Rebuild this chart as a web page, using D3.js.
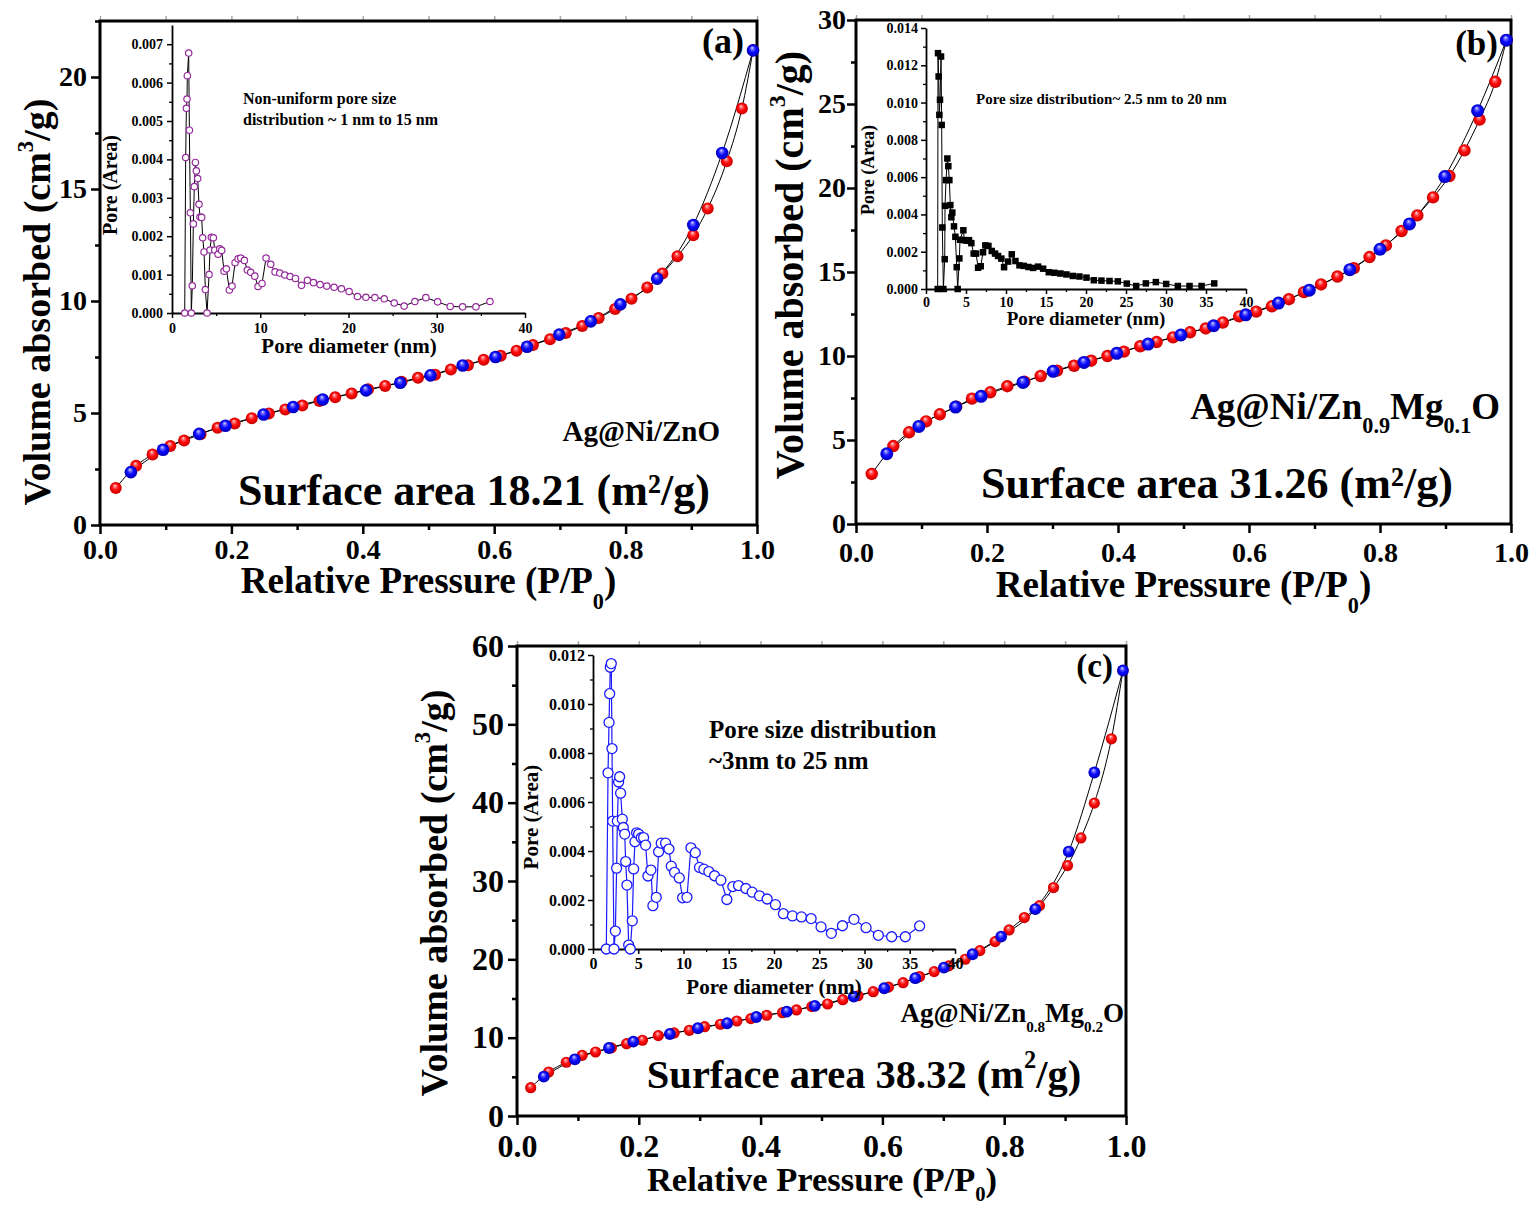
<!DOCTYPE html>
<html><head><meta charset="utf-8">
<script src="https://cdn.jsdelivr.net/npm/d3@7"></script>
<style>
body{margin:0;background:#fff;}
svg{display:block;}
text{font-family:"Liberation Serif","Times New Roman",serif;font-weight:bold;fill:#000;}
</style></head><body>
<svg id="chart" width="1533" height="1205"></svg>
<script>
// ---------- DATA ----------
// Panel (a) Ag@Ni/ZnO : [P/P0, volume]
const adsA = [[0.024,1.65],[0.055,2.64],[0.08,3.15],[0.107,3.53],[0.128,3.77],[0.153,4.05],[0.179,4.34],[0.205,4.53],[0.231,4.77],[0.257,4.98],[0.282,5.16],[0.308,5.33],[0.334,5.54],[0.358,5.70],[0.383,5.87],[0.408,6.06],[0.434,6.21],[0.459,6.39],[0.484,6.57],[0.51,6.71],[0.534,6.94],[0.56,7.13],[0.584,7.38],[0.61,7.56],[0.634,7.78],[0.659,8.04],[0.685,8.29],[0.709,8.57],[0.734,8.88],[0.759,9.24],[0.784,9.64],[0.809,10.1],[0.833,10.6],[0.856,11.23],[0.879,12.0],[0.903,12.94],[0.925,14.13],[0.954,16.24],[0.977,18.59],[0.994,21.19]];
const desA = [[0.047,2.36],[0.096,3.36],[0.151,4.07],[0.191,4.43],[0.249,4.93],[0.294,5.27],[0.339,5.60],[0.405,6.01],[0.457,6.35],[0.503,6.68],[0.552,7.12],[0.602,7.5],[0.65,7.96],[0.699,8.5],[0.747,9.09],[0.792,9.85],[0.848,11.0],[0.903,13.39],[0.947,16.61],[0.994,21.19]];
// Panel (b) Ag@Ni/Zn0.9Mg0.1O
const adsB = [[0.024,2.98],[0.057,4.64],[0.081,5.46],[0.107,6.11],[0.128,6.53],[0.153,6.98],[0.177,7.46],[0.205,7.84],[0.231,8.2],[0.257,8.47],[0.282,8.81],[0.307,9.13],[0.333,9.42],[0.359,9.72],[0.384,10.0],[0.409,10.26],[0.434,10.58],[0.459,10.83],[0.484,11.11],[0.51,11.41],[0.534,11.64],[0.56,11.99],[0.585,12.36],[0.611,12.64],[0.635,12.96],[0.661,13.38],[0.684,13.8],[0.71,14.26],[0.735,14.73],[0.76,15.23],[0.784,15.89],[0.809,16.58],[0.833,17.44],[0.857,18.37],[0.881,19.44],[0.906,20.71],[0.929,22.24],[0.952,24.07],[0.976,26.32],[0.993,28.8]];
const desB = [[0.047,4.18],[0.096,5.81],[0.152,6.96],[0.191,7.6],[0.255,8.43],[0.301,9.09],[0.348,9.62],[0.398,10.16],[0.446,10.71],[0.496,11.25],[0.546,11.8],[0.595,12.45],[0.645,13.15],[0.692,13.92],[0.754,15.14],[0.8,16.35],[0.845,17.86],[0.899,20.68],[0.949,24.6],[0.993,28.8]];
// Panel (c) Ag@Ni/Zn0.8Mg0.2O
const adsC = [[0.0225,3.61],[0.052,5.62],[0.081,6.86],[0.107,7.75],[0.129,8.17],[0.155,8.7],[0.18,9.23],[0.206,9.67],[0.232,10.26],[0.258,10.6],[0.283,10.94],[0.308,11.4],[0.334,11.71],[0.361,12.13],[0.384,12.43],[0.41,12.86],[0.436,13.19],[0.459,13.54],[0.484,13.96],[0.51,14.3],[0.535,14.85],[0.56,15.35],[0.585,15.87],[0.61,16.45],[0.634,17.02],[0.661,17.8],[0.685,18.43],[0.709,19.16],[0.736,20.01],[0.76,21.11],[0.785,22.26],[0.808,23.75],[0.833,25.33],[0.858,26.86],[0.881,29.16],[0.904,31.97],[0.926,35.5],[0.948,39.94],[0.976,48.15],[0.995,56.87]];
const desC = [[0.044,5.02],[0.095,7.24],[0.151,8.68],[0.191,9.49],[0.251,10.47],[0.297,11.2],[0.345,11.84],[0.393,12.64],[0.443,13.32],[0.489,14.05],[0.553,15.24],[0.603,16.31],[0.654,17.59],[0.701,18.94],[0.748,20.65],[0.795,22.9],[0.851,26.4],[0.906,33.76],[0.948,43.85],[0.995,56.87]];

// Insets: pore size distribution [diameter nm, pore area]
const poreA = [[1.44,0],[1.55,0.00405],[1.63,0.00533],[1.7,0.00557],[1.74,0.00618],[1.89,0.00677],[1.97,0.00476],[2.08,0.00261],[2.19,0],[2.3,0.00071],[2.42,0.00232],[2.53,0.00329],[2.65,0.00392],[2.76,0.0037],[2.91,0.0035],[3.06,0.00283],[3.17,0.0025],[3.36,0.00249],[3.48,0.00196],[3.63,0.00159],[3.78,0.00061],[3.97,0],[4.2,0.001],[4.31,0.00164],[4.46,0.00197],[4.69,0.00196],[4.84,0.00164],[5.22,0.00153],[5.41,0.00167],[5.63,0.00163],[5.9,0.00109],[6.16,0.00115],[6.5,0.0006],[6.8,0.0007],[7.15,0.00131],[7.49,0.00141],[7.79,0.00143],[8.2,0.00137],[8.54,0.00112],[8.92,0.00106],[9.38,0.00096],[9.75,0.00069],[10.2,0.00077],[10.66,0.00143],[11.19,0.00127],[11.68,0.00107],[12.21,0.00104],[12.78,0.00099],[13.38,0.00095],[13.99,0.0009],[14.67,0.00072],[15.35,0.00085],[16.03,0.00079],[16.78,0.00074],[17.54,0.0007],[18.37,0.00067],[19.2,0.00063],[20.07,0.00056],[21.02,0.00043],[21.97,0.00041],[22.99,0.0004],[24.05,0.00037],[25.18,0.00026],[26.31,0.00018],[27.52,0.0003],[28.77,0.0004],[30.1,0.00029],[31.53,0.00017],[32.93,0.00016],[34.44,0.00016],[36.03,0.0003]];
const poreB = [[1.46,0],[1.5,0.01265],[1.58,0.0114],[1.67,0.00934],[1.75,0.01015],[1.88,0.01247],[1.96,0.0088],[2.04,0.0033],[2.17,0],[2.34,0.0016],[2.38,0.00446],[2.5,0.00584],[2.67,0.0070],[2.79,0.00659],[2.92,0.00584],[3.04,0.0045],[3.17,0.00385],[3.29,0.0041],[3.5,0.00336],[3.67,0.0028],[3.84,0.00117],[3.96,0],[4.17,0.00164],[4.25,0.00264],[4.67,0.00315],[4.8,0.00262],[5.09,0.00259],[5.38,0.00262],[5.67,0.00246],[5.96,0.0019],[6.26,0.0019],[6.51,0.00114],[6.84,0.00122],[7.13,0.00197],[7.42,0.00234],[7.8,0.00231],[8.22,0.00204],[8.63,0.0019],[9.0,0.00177],[9.42,0.00163],[9.76,0.00117],[10.26,0.00147],[10.72,0.00186],[11.18,0.0015],[11.68,0.00127],[12.22,0.00124],[12.8,0.00118],[13.39,0.00113],[14.01,0.0012],[14.64,0.00109],[15.35,0.0009],[16.05,0.00087],[16.8,0.00083],[17.56,0.00078],[18.35,0.0007],[19.18,0.00067],[20.06,0.00061],[20.98,0.00047],[21.93,0.00045],[22.94,0.00043],[23.98,0.00041],[25.1,0.00029],[26.27,0.00016],[27.48,0.0003],[28.73,0.00037],[30.02,0.00027],[31.48,0.00016],[32.94,0.00016],[34.45,0.00016],[36.03,0.0003]];
const poreC = [[1.47,0],[1.66,0.00719],[1.77,0.00925],[1.84,0.01042],[1.91,0.0115],[2.02,0.01165],[2.1,0.00818],[2.17,0.00522],[2.32,0],[2.47,0.00073],[2.61,0.0033],[2.69,0.00522],[2.83,0.00682],[2.94,0.00703],[3.05,0.00636],[3.24,0.0053],[3.35,0.00496],[3.5,0.00469],[3.61,0.00357],[3.75,0.00261],[3.94,0.00016],[4.12,0],[4.34,0.00115],[4.49,0.00327],[4.64,0.00438],[4.82,0.00474],[5.04,0.00469],[5.33,0.00454],[5.59,0.00455],[5.81,0.00424],[6.07,0.00298],[6.4,0.00322],[6.62,0.00177],[6.99,0.00211],[7.25,0.00397],[7.54,0.00432],[8.02,0.00432],[8.39,0.00408],[8.65,0.00338],[9.01,0.00313],[9.53,0.0029],[9.9,0.00209],[10.38,0.00211],[10.82,0.00413],[11.3,0.00393],[11.77,0.00333],[12.25,0.00326],[12.8,0.00316],[13.43,0.00299],[14.13,0.00281],[14.79,0.00202],[15.45,0.00255],[16.08,0.00259],[16.89,0.00247],[17.59,0.00232],[18.4,0.00217],[19.24,0.00204],[20.16,0.00181],[21.04,0.00144],[22.04,0.00135],[23.03,0.00131],[24.1,0.00124],[25.2,0.0009],[26.34,0.00064],[27.56,0.00095],[28.84,0.00121],[30.17,0.00087],[31.53,0.00056],[33.0,0.0005],[34.51,0.0005],[36.09,0.00094]];

// Tick values
const mainXTicks = [0,0.2,0.4,0.6,0.8,1.0];
const mainXMinor = [0.1,0.3,0.5,0.7,0.9];
const yTicksA = [0,5,10,15,20];
const yTicksB = [0,5,10,15,20,25,30];
const yTicksC = [0,10,20,30,40,50,60];
const insetXTicksA = [0,10,20,30,40];
const insetXTicks5 = [0,5,10,15,20,25,30,35,40];
const insetYTicksA = [0,0.001,0.002,0.003,0.004,0.005,0.006,0.007];
const insetYTicksB = [0,0.002,0.004,0.006,0.008,0.010,0.012,0.014];
const insetYTicksC = [0,0.002,0.004,0.006,0.008,0.010,0.012];

// ---------- DRAWING ----------
const svg = d3.select("#chart");
const defs = svg.append("defs");
function sphereGrad(id, hi, mid, body, edge){
  const g = defs.append("radialGradient").attr("id",id)
    .attr("cx","0.5").attr("cy","0.5").attr("r","0.5").attr("fx","0.42").attr("fy","0.28");
  g.append("stop").attr("offset","0").attr("stop-color",hi);
  g.append("stop").attr("offset","0.22").attr("stop-color",mid);
  g.append("stop").attr("offset","0.55").attr("stop-color",body);
  g.append("stop").attr("offset","1").attr("stop-color",edge);
}
sphereGrad("gRed","#ffe8e8","#ff7070","#ff0a0a","#c80000");
sphereGrad("gBlue","#e8e8ff","#7070ff","#0a0aff","#0000b8");

function rich(g, x, y, fs, parts, opts={}){
  const t = g.append("text").attr("x",x).attr("y",y).attr("font-size",fs)
    .attr("text-anchor", opts.anchor || "start");
  if (opts.rotate) t.attr("transform", `rotate(-90,${x},${y})`);
  let shift = 0;
  parts.forEach(p => {
    const ts = t.append("tspan").text(p.t);
    let target = 0, size = fs;
    if (p.sup){ target = -fs*(p.up||0.42); size = fs*(p.s||0.6); }
    if (p.sub){ target = fs*(p.down||0.35); size = fs*(p.s||0.6); }
    ts.attr("font-size", size).attr("dy", target - shift);
    shift = target;
  });
  return t;
}

function styleAxisText(sel, fs){
  sel.attr("font-family", null).attr("font-size", null);
  sel.selectAll("text").attr("font-size", fs).attr("fill","#000");
  sel.selectAll("line").attr("stroke","#000");
}

function mainPanel(c){
  const g = svg.append("g");
  const x = d3.scaleLinear().domain([0,1]).range([c.x0,c.x1]);
  const y = d3.scaleLinear().domain([0,c.yMax]).range([c.y0,c.y1]);
  // faint top ticks
  g.append("g").attr("transform",`translate(0,${c.y1})`)
    .call(d3.axisTop(x).tickValues(mainXTicks.concat(mainXMinor)).tickSize(5).tickFormat(""))
    .call(s=>{s.select(".domain").remove(); s.selectAll("line").attr("stroke","#aaa").attr("stroke-width",1.5);});
  // frame
  g.append("rect").attr("x",c.x0).attr("y",c.y1).attr("width",c.x1-c.x0).attr("height",c.y0-c.y1)
    .attr("fill","none").attr("stroke","#000").attr("stroke-width",3);
  // x axis
  const xa = g.append("g").attr("transform",`translate(0,${c.y0})`)
    .call(d3.axisBottom(x).tickValues(mainXTicks).tickFormat(d3.format(".1f")).tickSize(9).tickPadding(c.xPad));
  xa.select(".domain").remove(); styleAxisText(xa, c.tickFs);
  xa.selectAll("line").attr("stroke-width",2.5);
  const xm = g.append("g").attr("transform",`translate(0,${c.y0})`)
    .call(d3.axisBottom(x).tickValues(mainXMinor).tickFormat("").tickSize(5));
  xm.select(".domain").remove(); xm.selectAll("line").attr("stroke","#000").attr("stroke-width",2.5);
  // y axis
  const ya = g.append("g").attr("transform",`translate(${c.x0},0)`)
    .call(d3.axisLeft(y).tickValues(c.yTicks).tickFormat(d3.format("d")).tickSize(9).tickPadding(c.yPad));
  ya.select(".domain").remove(); styleAxisText(ya, c.tickFs);
  ya.selectAll("line").attr("stroke-width",2.5);
  const minorY = c.yTicks.slice(0,-1).map((v,i)=>(v+c.yTicks[i+1])/2);
  if (c.yMax > c.yTicks[c.yTicks.length-1]) minorY.push(c.yTicks[c.yTicks.length-1] + (c.yTicks[1]-c.yTicks[0])/2);
  const ym = g.append("g").attr("transform",`translate(${c.x0},0)`)
    .call(d3.axisLeft(y).tickValues(minorY.filter(v=>v<=c.yMax)).tickFormat("").tickSize(5));
  ym.select(".domain").remove(); ym.selectAll("line").attr("stroke","#000").attr("stroke-width",2.5);
  // curves
  const line = d3.line().x(d=>x(d[0])).y(d=>y(d[1])).curve(d3.curveMonotoneX);
  g.append("path").datum(c.ads).attr("d",line).attr("fill","none").attr("stroke","#000").attr("stroke-width",1);
  g.append("path").datum(c.des).attr("d",line).attr("fill","none").attr("stroke","#000").attr("stroke-width",1);
  // spheres
  g.append("g").selectAll("circle").data(c.ads).join("circle")
    .attr("cx",d=>x(d[0])).attr("cy",d=>y(d[1])).attr("r",c.r).attr("fill","url(#gRed)");
  g.append("g").selectAll("circle").data(c.des).join("circle")
    .attr("cx",d=>x(d[0])).attr("cy",d=>y(d[1])).attr("r",c.r+0.3).attr("fill","url(#gBlue)");
  return g;
}

function inset(c){
  const g = svg.append("g");
  const x = d3.scaleLinear().domain([0,40]).range([c.x0,c.x1]);
  const y = d3.scaleLinear().domain([0,c.yMax]).range([c.y0,c.y1]);
  const xa = g.append("g").attr("transform",`translate(0,${c.y0})`)
    .call(d3.axisBottom(x).tickValues(c.xTicks).tickFormat(d3.format("d")).tickSize(5).tickSizeOuter(0).tickPadding(c.xPad));
  styleAxisText(xa, c.fs); xa.select(".domain").attr("stroke","#000").attr("stroke-width",1.8);
  xa.selectAll("line").attr("stroke-width",1.5);
  const xMinor = c.xTicks.slice(0,-1).map((v,i)=>(v+c.xTicks[i+1])/2);
  const xm = g.append("g").attr("transform",`translate(0,${c.y0})`)
    .call(d3.axisBottom(x).tickValues(xMinor).tickFormat("").tickSize(3));
  xm.select(".domain").remove(); xm.selectAll("line").attr("stroke","#000").attr("stroke-width",1.3);
  const ya = g.append("g").attr("transform",`translate(${c.x0},0)`)
    .call(d3.axisLeft(y).tickValues(c.yTicks).tickFormat(d3.format(".3f")).tickSize(5).tickSizeOuter(0).tickPadding(c.yPad));
  styleAxisText(ya, c.fs); ya.select(".domain").attr("stroke","#000").attr("stroke-width",1.8);
  ya.selectAll("line").attr("stroke-width",1.5);
  const yMinor = c.yTicks.map((v,i)=> v + (c.yTicks[1]-c.yTicks[0])/2).filter(v=>v<c.yMax);
  const ym = g.append("g").attr("transform",`translate(${c.x0},0)`)
    .call(d3.axisLeft(y).tickValues(yMinor).tickFormat("").tickSize(3));
  ym.select(".domain").remove(); ym.selectAll("line").attr("stroke","#000").attr("stroke-width",1.3);
  const line = d3.line().x(d=>x(d[0])).y(d=>y(d[1]));
  g.append("path").datum(c.data).attr("d",line).attr("fill","none").attr("stroke",c.lineColor).attr("stroke-width",c.lw);
  if (c.marker === "square"){
    g.append("g").selectAll("rect").data(c.data).join("rect")
      .attr("x",d=>x(d[0])-c.ms/2).attr("y",d=>y(d[1])-c.ms/2).attr("width",c.ms).attr("height",c.ms)
      .attr("fill","#000");
  } else {
    g.append("g").selectAll("circle").data(c.data).join("circle")
      .attr("cx",d=>x(d[0])).attr("cy",d=>y(d[1])).attr("r",c.ms)
      .attr("fill","#fff").attr("stroke",c.mColor).attr("stroke-width",c.msw);
  }
  return g;
}

// ----- Panel (a)
const gA = mainPanel({x0:100,x1:757,y0:525,y1:21,yMax:22.5,yTicks:yTicksA,ads:adsA,des:desA,r:6,tickFs:28,xPad:5,yPad:4});
inset({x0:172,x1:525,y0:313,y1:25,yMax:0.0075,xTicks:insetXTicksA,yTicks:insetYTicksA,data:poreA,fs:14,xPad:5,yPad:4,
  lineColor:"#000",lw:1,marker:"circle",ms:3.2,mColor:"#952a9c",msw:1.2});
rich(gA,243,104,16,[{t:"Non-uniform pore size"}]);
rich(gA,243,125,16,[{t:"distribution ~ 1 nm to 15 nm"}]);
rich(gA,349,353,21,[{t:"Pore diameter (nm)"}],{anchor:"middle"});
rich(gA,117,185,20,[{t:"Pore (Area)"}],{anchor:"middle",rotate:true});
rich(gA,744,53,36,[{t:"(a)"}],{anchor:"end"});
rich(gA,720,441,29,[{t:"Ag@Ni/ZnO"}],{anchor:"end"});
rich(gA,474,505,44,[{t:"Surface area 18.21 (m²/g)"}],{anchor:"middle"});
rich(gA,428.5,593,37,[{t:"Relative Pressure (P/P"},{t:"0",sub:true,down:0.42,s:0.6},{t:")"}],{anchor:"middle"});
rich(gA,50,302,38,[{t:"Volume absorbed (cm"},{t:"3",sup:true,up:0.45,s:0.6},{t:"/g)"}],{anchor:"middle",rotate:true});

// ----- Panel (b)
const gB = mainPanel({x0:856,x1:1511,y0:524,y1:20,yMax:30,yTicks:yTicksB,ads:adsB,des:desB,r:6.2,tickFs:28,xPad:9,yPad:1});
inset({x0:926,x1:1246,y0:289,y1:28,yMax:0.014,xTicks:insetXTicks5,yTicks:insetYTicksB,data:poreB,fs:14,xPad:3,yPad:3,
  lineColor:"#000",lw:1,marker:"square",ms:6.5});
rich(gB,976,104,15,[{t:"Pore size distribution~ 2.5 nm to 20 nm"}]);
rich(gB,1086,325,19,[{t:"Pore diameter (nm)"}],{anchor:"middle"});
rich(gB,874,170,18,[{t:"Pore (Area)"}],{anchor:"middle",rotate:true});
rich(gB,1498,55,35,[{t:"(b)"}],{anchor:"end"});
rich(gB,1500,419,37,[{t:"Ag@Ni/Zn"},{t:"0.9",sub:true,down:0.38,s:0.6},{t:"Mg"},{t:"0.1",sub:true,down:0.38,s:0.6},{t:"O"}],{anchor:"end"});
rich(gB,1217,498,44,[{t:"Surface area 31.26 (m²/g)"}],{anchor:"middle"});
rich(gB,1183.5,597,37,[{t:"Relative Pressure (P/P"},{t:"0",sub:true,down:0.42,s:0.6},{t:")"}],{anchor:"middle"});
rich(gB,803,265,40,[{t:"Volume absorbed (cm"},{t:"3",sup:true,up:0.45,s:0.6},{t:"/g)"}],{anchor:"middle",rotate:true});

// ----- Panel (c)
const gC = mainPanel({x0:517,x1:1126,y0:1116,y1:646,yMax:60,yTicks:yTicksC,ads:adsC,des:desC,r:5.6,tickFs:32,xPad:9,yPad:4});
inset({x0:593,x1:955,y0:949,y1:655,yMax:0.012,xTicks:insetXTicks5,yTicks:insetYTicksC,data:poreC,fs:16,xPad:4,yPad:3,
  lineColor:"#1a1aff",lw:1.2,marker:"circle",ms:5,mColor:"#1a1aff",msw:1.3});
rich(gC,709,738,25,[{t:"Pore size distribution"}]);
rich(gC,709,769,25,[{t:"~3nm to 25 nm"}]);
rich(gC,774,994,21,[{t:"Pore diameter (nm)"}],{anchor:"middle"});
rich(gC,538,817,21,[{t:"Pore (Area)"}],{anchor:"middle",rotate:true});
rich(gC,1113,677,33,[{t:"(c)"}],{anchor:"end"});
rich(gC,1124,1022,27,[{t:"Ag@Ni/Zn"},{t:"0.8",sub:true,down:0.38,s:0.56},{t:"Mg"},{t:"0.2",sub:true,down:0.38,s:0.56},{t:"O"}],{anchor:"end"});
rich(gC,864,1088,40.5,[{t:"Surface area 38.32 (m"},{t:"2",sup:true,up:0.5,s:0.6},{t:"/g)"}],{anchor:"middle"});
rich(gC,822,1191,34.5,[{t:"Relative Pressure (P/P"},{t:"0",sub:true,down:0.3,s:0.6},{t:")"}],{anchor:"middle"});
rich(gC,447,893,38,[{t:"Volume absorbed (cm"},{t:"3",sup:true,up:0.45,s:0.6},{t:"/g)"}],{anchor:"middle",rotate:true});
</script>
</body></html>
